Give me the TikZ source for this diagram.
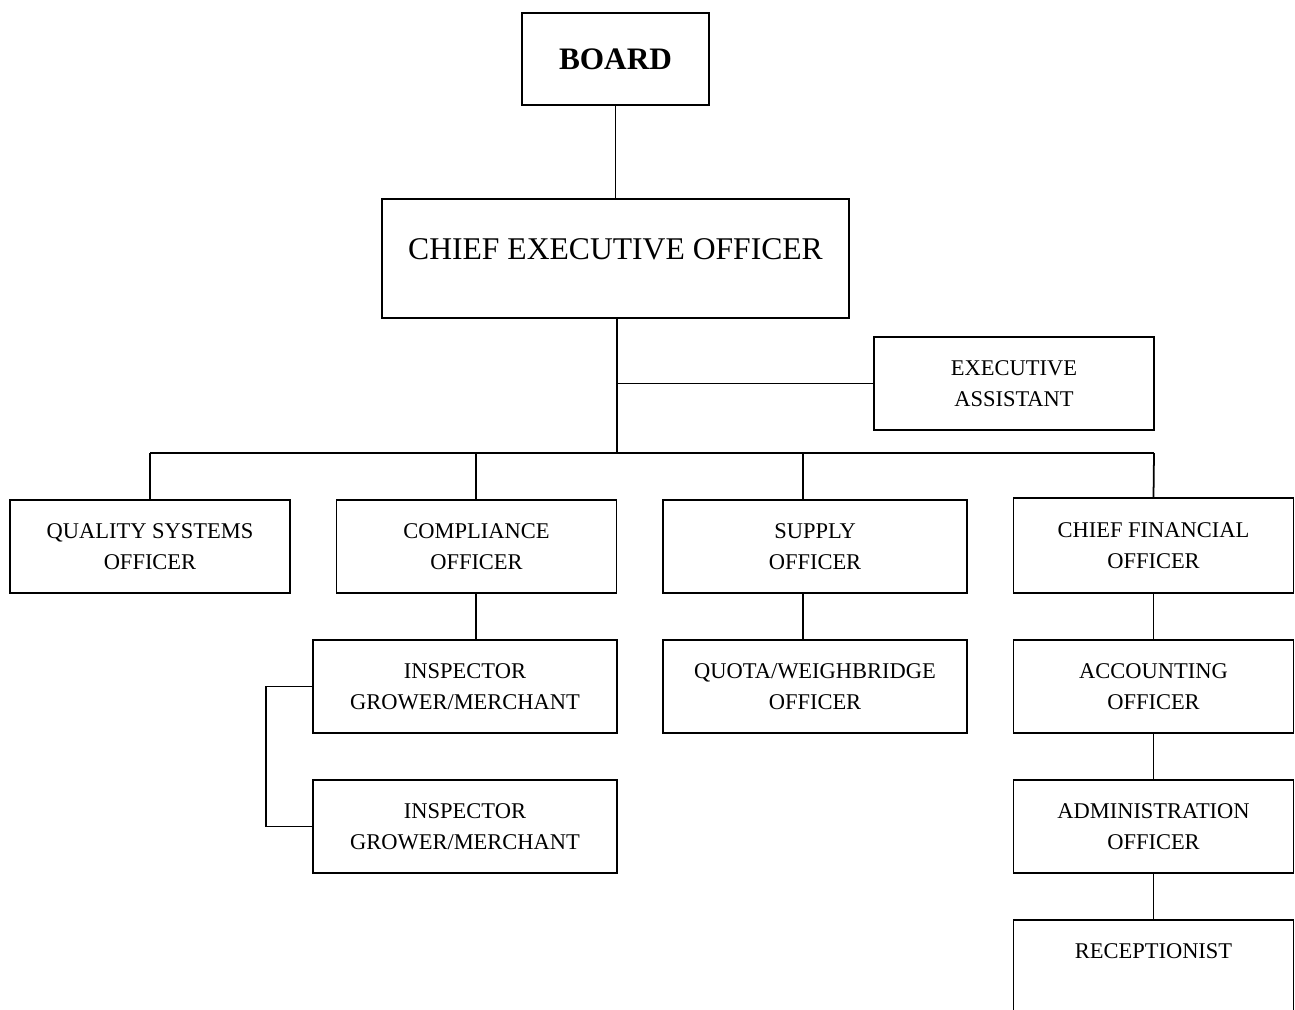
\documentclass[tikz,border=0pt]{standalone}
\usepackage{fontspec}
\setmainfont{Liberation Serif}
\usetikzlibrary{positioning}

\tikzset{
  unitbox/.style={rectangle, draw, line width=1pt, align=center, minimum width=5.6cm, minimum height=1.86cm,
    inner sep=0pt, font=\fontsize{12.8}{17.6}\selectfont},
  wideunit/.style={unitbox, minimum width=6.08cm},
  link/.style={line width=1pt}
}

\begin{document}
\begin{tikzpicture}[x=0.02cm, y=-0.02cm]
        \clip (0,0) rectangle (1295,1010);
        % top of the chart
        \node(board) [rectangle, draw, line width=1pt, minimum width=3.74cm, minimum height=1.84cm,
          font=\fontsize{17.8}{20}\selectfont\bfseries] at (615.5,59) {BOARD};
        \node(ceo) [unitbox, minimum width=9.34cm, minimum height=2.38cm,
          font=\fontsize{18}{22}\selectfont] at (615.5,258.5) {CHIEF EXECUTIVE OFFICER\\[-11pt]\mbox{}};
        \node(ea) [unitbox] at (1014,383.5) {EXECUTIVE\\ASSISTANT};

        % first row
        \node(qso) [unitbox] at (150,546.5) {QUALITY SYSTEMS\\OFFICER};
        \node(comp) [unitbox] at (476.5,546.5) {COMPLIANCE\\OFFICER};
        \node(sup) [wideunit] at (815,546.5) {SUPPLY\\OFFICER};
        \node(cfo) [unitbox, minimum height=1.9cm] at (1153.5,545.5) {CHIEF FINANCIAL\\OFFICER};

        % lower rows
        \node(insp1) [wideunit] at (465,686.5) {INSPECTOR\\GROWER/MERCHANT};
        \node(insp2) [wideunit] at (465,826.5) {INSPECTOR\\GROWER/MERCHANT};
        \node(quota) [wideunit] at (815,686.5) {QUOTA/WEIGHBRIDGE\\OFFICER};
        \node(acc) [unitbox] at (1153.5,686.5) {ACCOUNTING\\OFFICER};
        \node(adm) [unitbox] at (1153.5,826.5) {ADMINISTRATION\\OFFICER};
        \node(rec) [unitbox] at (1153.5,966.5) {RECEPTIONIST\\\mbox{}};

        % bus and joints
        \coordinate(busL) at (150,453);
        \coordinate(busR) at (1154,453);
        \coordinate(compj) at (476,453);
        \coordinate(supj) at (803,453);

        \draw[link] (board) -- (ceo);
        \draw[link] ([xshift=0.03cm]ceo.south) -- ([xshift=0.03cm]ceo.south |- busL);
        \draw[link] ([xshift=0.03cm]ceo.south |- ea.west) -- (ea.west);
        \draw[link] (busL) -- (busR);
        \draw[link] (busL) -- (qso.north);
        \draw[link] (compj) -- (compj |- comp.north);
        \draw[link] (supj) -- (supj |- sup.north);
        \draw[link] (busR) -- (cfo.north);
        \draw[link] (compj |- comp.south) -- (compj |- insp1.north);
        \draw[link] (insp1.west) -- ++(-46,0) |- (insp2.west);
        \draw[link] (supj |- sup.south) -- (supj |- quota.north);
        \draw[link] (cfo) -- (acc);
        \draw[link] (acc) -- (adm);
        \draw[link] (adm) -- (rec);
    \end{tikzpicture}
\end{document}
